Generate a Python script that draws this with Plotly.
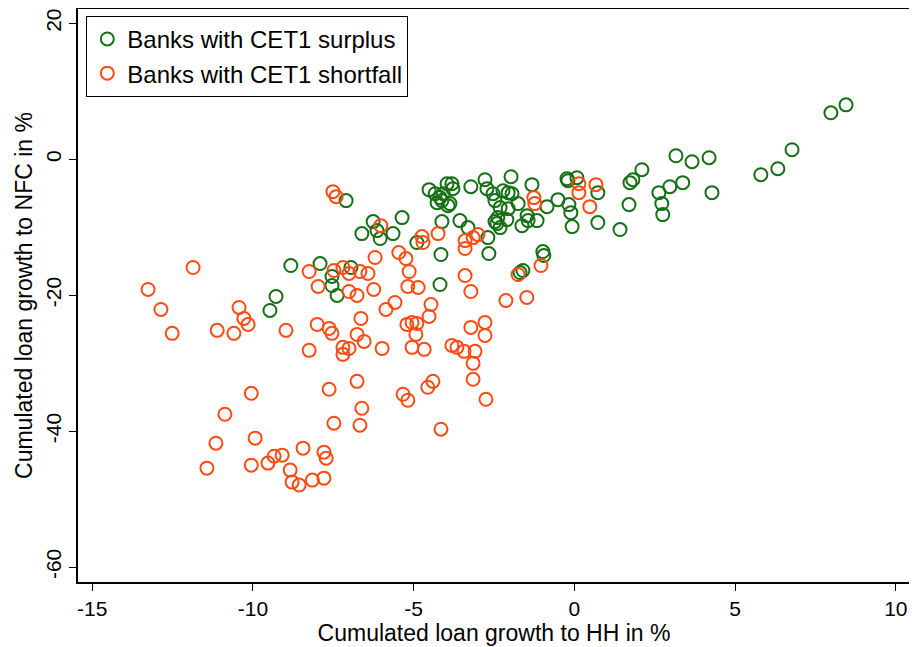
import plotly.graph_objects as go

# Banks with CET1 surplus (green)
surplus_hh = [8.45, 7.98, 6.77, 6.33, 5.80, 4.28, 4.19, 3.66, 3.16, 3.37, 2.97, 2.63, 2.72, 2.75,
              2.10, 1.82, 1.73, 1.70, 1.42, 0.73, 0.73, -0.07, -0.11, -0.17, -0.23, -0.20, 0.08,
              -0.51, -0.85, -1.16, -1.32, -1.97, -2.78, -2.72, -3.22, -3.81, -3.78, -3.87, -3.56,
              -2.53, -2.47, -2.22, -2.06, -1.94, -1.75, -2.31, -2.06, -2.38, -2.47, -2.41, -2.31,
              -2.10, -1.63, -1.47, -1.44, -3.31, -2.69, -2.66, -0.98, -0.95, -1.60, -1.69, -4.52,
              -3.96, -4.33, -4.18, -4.08, -4.27, -4.12, -3.93, -4.12, -4.15, -4.18, -5.36, -6.26,
              -6.14, -6.04, -6.61, -5.64, -4.90, -7.10, -7.91, -7.54, -7.54, -7.38, -6.95, -8.82,
              -9.28, -9.47]
surplus_nfc = [8.0, 6.83, 1.40, -1.40, -2.28, -4.92, 0.22, -0.37, 0.51, -3.45, -4.04, -4.92, -6.53,
               -8.15, -1.54, -3.01, -3.45, -6.68, -10.35, -4.92, -9.32, -9.91, -7.86, -6.68, -2.86,
               -3.16, -2.72, -5.95, -6.98, -9.03, -3.74, -2.57, -3.01, -4.33, -4.04, -3.60, -4.33,
               -6.53, -9.03, -5.07, -6.09, -4.63, -4.92, -5.07, -6.53, -7.12, -7.27, -8.59, -9.18,
               -9.47, -10.06, -8.88, -9.77, -8.30, -9.03, -10.06, -11.53, -13.88, -13.58, -14.17,
               -16.37, -16.67, -4.48, -3.60, -5.07, -5.65, -5.07, -6.39, -6.09, -6.83, -9.18,
               -14.02, -18.43, -8.59, -9.18, -10.50, -11.67, -10.94, -10.94, -12.26, -6.09, -15.35,
               -17.25, -18.58, -20.04, -15.93, -15.64, -20.19, -22.25]

# Banks with CET1 shortfall (orange)
shortfall_hh = [0.14, 0.67, 0.14, 0.48, -1.26, -1.23, -3.00, -3.15, -3.40, -3.40, -1.04, -1.75,
                -3.40, -3.22, -2.13, -1.48, -3.22, -2.78, -2.78, -7.51, -7.41, -6.02, -4.74, -4.71,
                -4.24, -5.46, -5.24, -5.14, -6.20, -8.25, -7.48, -7.20, -7.01, -6.67, -6.42, -7.97,
                -7.01, -6.76, -6.24, -5.18, -4.86, -5.58, -5.86, -4.46, -4.52, -6.64, -8.00, -7.63,
                -7.54, -6.76, -6.54, -5.21, -5.05, -4.90, -4.93, -5.98, -7.20, -7.01, -7.20, -5.05,
                -4.67, -3.81, -3.65, -3.43, -3.09, -3.15, -3.15, -2.75, -4.40, -4.56, -5.33, -5.18,
                -6.76, -7.63, -6.61, -7.48, -6.67, -4.15, -8.44, -7.79, -7.72, -12.51, -11.11,
                -10.59, -8.97, -8.25, -10.05, -10.87, -11.15, -9.93, -11.43, -10.05, -9.53, -9.34,
                -9.09, -8.84, -8.78, -8.56, -8.15, -7.79, -11.86, -13.26, -12.86, -10.43, -10.28,
                -10.15]
shortfall_nfc = [-3.60, -3.74, -4.92, -6.98, -5.65, -6.53, -11.09, -11.53, -11.97, -13.14, -15.64,
                 -16.96, -17.11, -19.46, -20.78, -20.34, -24.74, -24.01, -25.92, -4.77, -5.51,
                 -9.77, -11.38, -12.26, -10.94, -13.73, -14.61, -16.52, -14.46, -16.52, -16.37,
                 -15.93, -16.81, -16.52, -16.81, -18.72, -19.46, -20.04, -19.16, -18.72, -18.87,
                 -21.07, -22.10, -21.37, -23.13, -23.42, -24.30, -24.89, -25.62, -25.77, -26.80,
                 -24.30, -24.01, -24.16, -25.77, -27.83, -27.68, -27.83, -28.71, -27.68, -27.97,
                 -27.39, -27.68, -28.27, -28.27, -30.03, -32.38, -35.32, -32.68, -33.55, -34.58,
                 -35.46, -32.68, -33.85, -36.64, -38.84, -39.13, -39.72, -42.51, -43.10, -43.98,
                 -25.62, -25.18, -25.62, -25.18, -28.12, -34.44, -37.52, -41.78, -41.04, -45.45,
                 -45.01, -44.71, -43.69, -43.54, -45.74, -47.50, -47.94, -47.21, -46.92, -15.93,
                 -19.16, -22.10, -21.81, -23.42, -24.30]

x_ticks = [-15, -10, -5, 0, 5, 10]
x_tick_labels = ["-15", "-10", "-5", "0", "5", "10"]
y_ticks = [20, 0, -20, -40, -60]
y_tick_labels = ["20", "0", "-20", "-40", "-60"]

GREEN = "#157015"
ORANGE = "#ff4a12"
FONT = "Liberation Sans, Arial, sans-serif"

fig = go.Figure()
fig.add_trace(go.Scatter(
    x=surplus_hh, y=surplus_nfc, mode="markers", name="Banks with CET1 surplus",
    marker=dict(symbol="circle-open", size=13, color=GREEN, line=dict(width=2, color=GREEN)),
))
fig.add_trace(go.Scatter(
    x=shortfall_hh, y=shortfall_nfc, mode="markers", name="Banks with CET1 shortfall",
    marker=dict(symbol="circle-open", size=13, color=ORANGE, line=dict(width=2, color=ORANGE)),
))

axis_common = dict(
    showgrid=False, zeroline=False, showline=True, linecolor="black", linewidth=1.5,
    mirror=True, ticks="outside", ticklen=7, tickwidth=1.2, tickcolor="black",
    tickfont=dict(family=FONT, size=21, color="black"), automargin=False,
    ticklabeloverflow="allow",
)

# The page body adds an 8px offset, so the figure is sized 8px smaller.
fig.update_layout(
    width=909, height=639,
    margin=dict(l=70, r=7, t=1, b=65),
    paper_bgcolor="white", plot_bgcolor="white",
    font=dict(family=FONT, size=24, color="black"),
    xaxis=dict(range=[-15.44, 10.44], tickvals=x_ticks, ticktext=x_tick_labels,
               title=dict(text="Cumulated loan growth to HH in %", standoff=6,
                          font=dict(family=FONT, size=23, color="black")),
               **axis_common),
    yaxis=dict(range=[-62.2, 22.1], tickvals=y_ticks, ticktext=y_tick_labels, tickangle=-90,
               title=dict(text="Cumulated loan growth to NFC in %", standoff=3,
                          font=dict(family=FONT, size=23, color="black")),
               **axis_common),
    legend=dict(x=0.01, y=0.988, xanchor="left", yanchor="top",
                bgcolor="white", bordercolor="black", borderwidth=1,
                font=dict(family=FONT, size=24, color="black")),
    showlegend=True,
)

fig.write_html("out.html")
